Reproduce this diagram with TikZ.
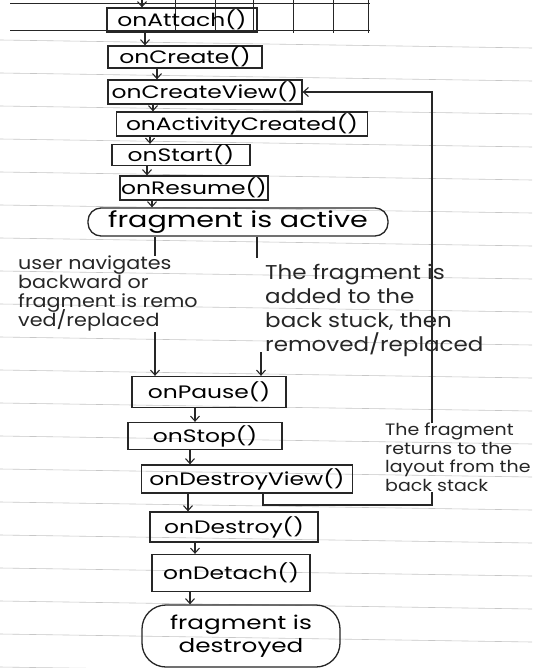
\documentclass[tikz,border=0pt]{standalone}
\usepackage{fontspec}
\setmainfont{Poppins}
\newfontfamily\hand[FakeStretch=1.15]{Poppins}
\newfontfamily\handwide[FakeStretch=1.3]{Poppins}
\usetikzlibrary{arrows.meta}
% let handwritten note lines overlap without extra spacing
\newcommand\tightlines{\lineskiplimit=-100pt\relax}

\tikzset{
  ink/.style={line width=1.3pt, draw=black!85},
  stage/.style={ink, draw, inner sep=0pt, font=\handwide\fontsize{18}{18}\selectfont},
  roundstage/.style={stage, rounded corners=13pt},
  flow/.style={ink, -{Straight Barb[length=5pt,width=9pt,line width=1.1pt]}},
  link/.style={ink},
  note/.style={align=left, inner sep=0pt, anchor=north west, text=black!85},
  rule/.style={line width=0.6pt, draw=black!22},
}

\begin{document}
\begin{tikzpicture}[x=1pt,y=-1pt]
\useasboundingbox (0,0) rectangle (532,668);
\fill[white] (0,0) rectangle (532,668);

% ruled notebook lines
\foreach \ly in {40,73,...,670} \draw[rule] (0,\ly) -- (532,\ly+8);
% table grid at the top of the page
\draw[ink, line width=1pt] (10,4) -- (370,4) (10,31) -- (370,31);
\foreach \gx in {175,215,253,293,333,368} \draw[ink, line width=1pt] (\gx,0) -- (\gx,33);

% lifecycle stages
\node[stage, minimum width=150pt, minimum height=24pt] (attach)      at (182,20)   {onAttach()};
\node[stage, minimum width=154pt, minimum height=22pt] (create)      at (185,57)   {onCreate()};
\node[stage, minimum width=194pt, minimum height=24pt] (createview)  at (205,92)   {onCreateView()};
\node[stage, minimum width=251pt, minimum height=24pt] (actcreated)  at (242,124)  {onActivityCreated()};
\node[stage, minimum width=138pt, minimum height=21pt] (start)       at (181,155)  {onStart()};
\node[stage, minimum width=148pt, minimum height=24pt] (resume)      at (194,188)  {onResume()};
\node[roundstage, minimum width=300pt, minimum height=28pt, font=\handwide\fontsize{22}{22}\selectfont] (active) at (238,222) {fragment is active};

\node[stage, minimum width=154pt, minimum height=31pt] (pause)       at (209,392)  {onPause()};
\node[stage, minimum width=154pt, minimum height=27pt] (stop)        at (205,436)  {onStop()};
\node[stage, minimum width=211pt, minimum height=28pt] (destroyview) at (247,479)  {onDestroyView()};
\node[stage, minimum width=168pt, minimum height=30pt] (destroy)     at (234,527)  {onDestroy()};
\node[stage, minimum width=158pt, minimum height=37pt] (detach)      at (231,573)  {onDetach()};
\node[roundstage, rounded corners=24pt, minimum width=198pt, minimum height=62pt, align=center,
      font=\handwide\fontsize{19}{23}\selectfont] (destroyed) at (241,636) {fragment is\\destroyed};

% transition notes
\node[note, font={\hand\fontsize{18}{19}\selectfont\tightlines}] (backnote) at (18,256)
  {user navigates\\backward or\\fragment is remo\\ved/replaced};
\node[note, font={\hand\fontsize{20}{24}\selectfont\tightlines}] (stacknote) at (265,264)
  {The fragment is\\added to the\\back stuck, then\\removed/replaced};
\node[note, font={\hand\fontsize{16.5}{18.5}\selectfont\tightlines}] (returnnote) at (385,423)
  {The fragment\\returns to the\\layout from the\\back stack};

% arrow columns
\coordinate (k0) at (142,0);
\coordinate (k1) at (145,0);
\coordinate (k2) at (157,0);
\coordinate (k3) at (153,0);
\coordinate (k4) at (150,0);
\coordinate (k5) at (147,0);
\coordinate (k6) at (152,0);
\coordinate (kl) at (155,0);
\coordinate (k7) at (195,0);
\coordinate (k8) at (190,0);
\coordinate (k9) at (188,0);
\coordinate (k10) at (195,0);
\coordinate (k11) at (190,0);
\coordinate (entry) at (142,0);
\coordinate (midA) at (257,258);
\coordinate (midB) at (261,352);
\coordinate (rx) at (432,0);
\coordinate (bx) at (263,0);
\coordinate (ry) at (0,505);

% creation sequence
\draw[flow] (entry) -- (attach.north -| k0);
\draw[flow] (attach.south -| k1) -- (create.north -| k1);
\draw[flow] (create.south -| k2) -- (createview.north -| k2);
\draw[flow] (createview.south -| k3) -- (actcreated.north -| k3);
\draw[flow] (actcreated.south -| k4) -- (start.north -| k4);
\draw[flow] (start.south -| k5) -- (resume.north -| k5);
\draw[flow] (resume.south -| k6) -- (active.north -| k6);

% leaving the active state
\draw[link] (active.south -| kl) -- (backnote.north -| kl);
\draw[flow] (backnote.south -| kl) -- (pause.north -| kl);
\draw[link] (active.south -| midA) -- (midA);
\draw[flow] (midB) -- (pause.north -| midB);

% teardown sequence
\draw[flow] (pause.south -| k7) -- (stop.north -| k7);
\draw[flow] (stop.south -| k8) -- (destroyview.north -| k8);
\draw[flow] (destroyview.south -| k9) -- (destroy.north -| k9);
\draw[flow] (destroy.south -| k10) -- (detach.north -| k10);
\draw[flow] (detach.south -| k11) -- (destroyed.north -| k11);

% return from the back stack
\draw[link] (destroyview.south -| bx) -- (bx |- ry) -- (rx |- ry) -- (returnnote.south -| rx);
\draw[flow] (returnnote.north -| rx) -- (rx |- createview.east) -- (createview.east);
\end{tikzpicture}
\end{document}
